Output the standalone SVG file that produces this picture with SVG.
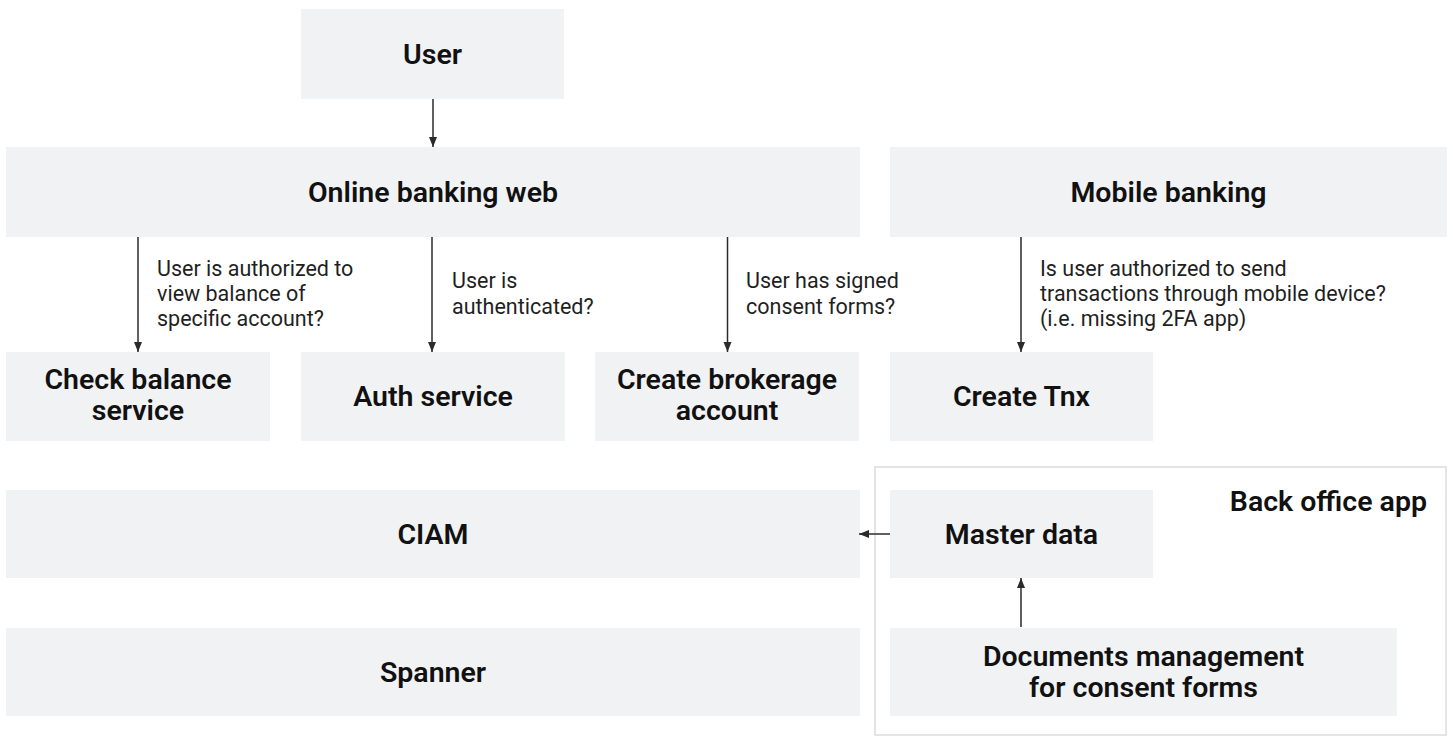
<svg xmlns="http://www.w3.org/2000/svg" width="1453" height="736" viewBox="0 0 1453 736">
  <style>
    .box { fill: #f1f2f4; }
    .frame { fill: none; stroke: #dadce0; stroke-width: 1.5; }
    .title { font-family: Roboto, "Liberation Sans", sans-serif; font-size: 28.5px; font-weight: 600; fill: #111111; text-anchor: middle; }
    .note { font-family: Roboto, "Liberation Sans", sans-serif; font-size: 21.5px; fill: #1f1f1f; }
    .edge { stroke: #2b2b2b; stroke-width: 1.5; fill: none; marker-end: url(#arrow); }
  </style>
  <defs>
    <marker id="arrow" viewBox="0 0 10 10" refX="10" refY="5" markerWidth="10" markerHeight="10" markerUnits="userSpaceOnUse" orient="auto">
      <path d="M0,1 L10,5 L0,9 z" fill="#2b2b2b"/>
    </marker>
  </defs>
  <rect width="1453" height="736" fill="#ffffff"/>

  <!-- back office container -->
  <g id="back-office">
    <rect class="frame" x="875" y="467" width="571" height="268"/>
    <text class="title" x="1427" y="511" style="text-anchor:end">Back office app</text>
  </g>

  <g id="user">
    <rect class="box" x="301" y="9" width="263" height="90"/>
    <text class="title" x="432.5" y="64">User</text>
  </g>
  <g id="online-banking">
    <rect class="box" x="6" y="147" width="854" height="90"/>
    <text class="title" x="433" y="202">Online banking web</text>
  </g>
  <g id="mobile-banking">
    <rect class="box" x="890" y="147" width="557" height="90"/>
    <text class="title" x="1168.5" y="202">Mobile banking</text>
  </g>
  <g id="check-balance">
    <rect class="box" x="6" y="352" width="264" height="89"/>
    <text class="title" x="138" y="389">Check balance</text>
    <text class="title" x="138" y="420">service</text>
  </g>
  <g id="auth-service">
    <rect class="box" x="301" y="352" width="264" height="89"/>
    <text class="title" x="433" y="406">Auth service</text>
  </g>
  <g id="create-brokerage">
    <rect class="box" x="595" y="352" width="264" height="89"/>
    <text class="title" x="727" y="389">Create brokerage</text>
    <text class="title" x="727" y="420">account</text>
  </g>
  <g id="create-tnx">
    <rect class="box" x="890" y="352" width="263" height="89"/>
    <text class="title" x="1021.5" y="406">Create Tnx</text>
  </g>
  <g id="ciam">
    <rect class="box" x="6" y="490" width="854" height="88"/>
    <text class="title" x="433" y="544">CIAM</text>
  </g>
  <g id="master-data">
    <rect class="box" x="890" y="490" width="263" height="88"/>
    <text class="title" x="1021.5" y="544">Master data</text>
  </g>
  <g id="spanner">
    <rect class="box" x="6" y="628" width="854" height="88"/>
    <text class="title" x="433" y="682">Spanner</text>
  </g>
  <g id="documents">
    <rect class="box" x="890" y="628" width="507" height="88"/>
    <text class="title" x="1143.5" y="666">Documents management</text>
    <text class="title" x="1143.5" y="697">for consent forms</text>
  </g>

  <g id="connectors">
    <line class="edge" x1="433" y1="99" x2="433" y2="147"/>
    <line class="edge" x1="138" y1="237" x2="138" y2="352"/>
    <line class="edge" x1="432" y1="237" x2="432" y2="352"/>
    <line class="edge" x1="727.5" y1="237" x2="727.5" y2="352"/>
    <line class="edge" x1="1021" y1="237" x2="1021" y2="352"/>
    <line class="edge" x1="890" y1="534" x2="859" y2="534"/>
    <line class="edge" x1="1021" y1="627" x2="1021" y2="578"/>

    <text class="note" x="157" y="276">User is authorized to</text>
    <text class="note" x="157" y="301">view balance of</text>
    <text class="note" x="157" y="326">specific account?</text>

    <text class="note" x="452" y="288">User is</text>
    <text class="note" x="452" y="314">authenticated?</text>

    <text class="note" x="746" y="288">User has signed</text>
    <text class="note" x="746" y="314">consent forms?</text>

    <text class="note" x="1040" y="276">Is user authorized to send</text>
    <text class="note" x="1040" y="301">transactions through mobile device?</text>
    <text class="note" x="1040" y="326">(i.e. missing 2FA app)</text>
  </g>
</svg>
